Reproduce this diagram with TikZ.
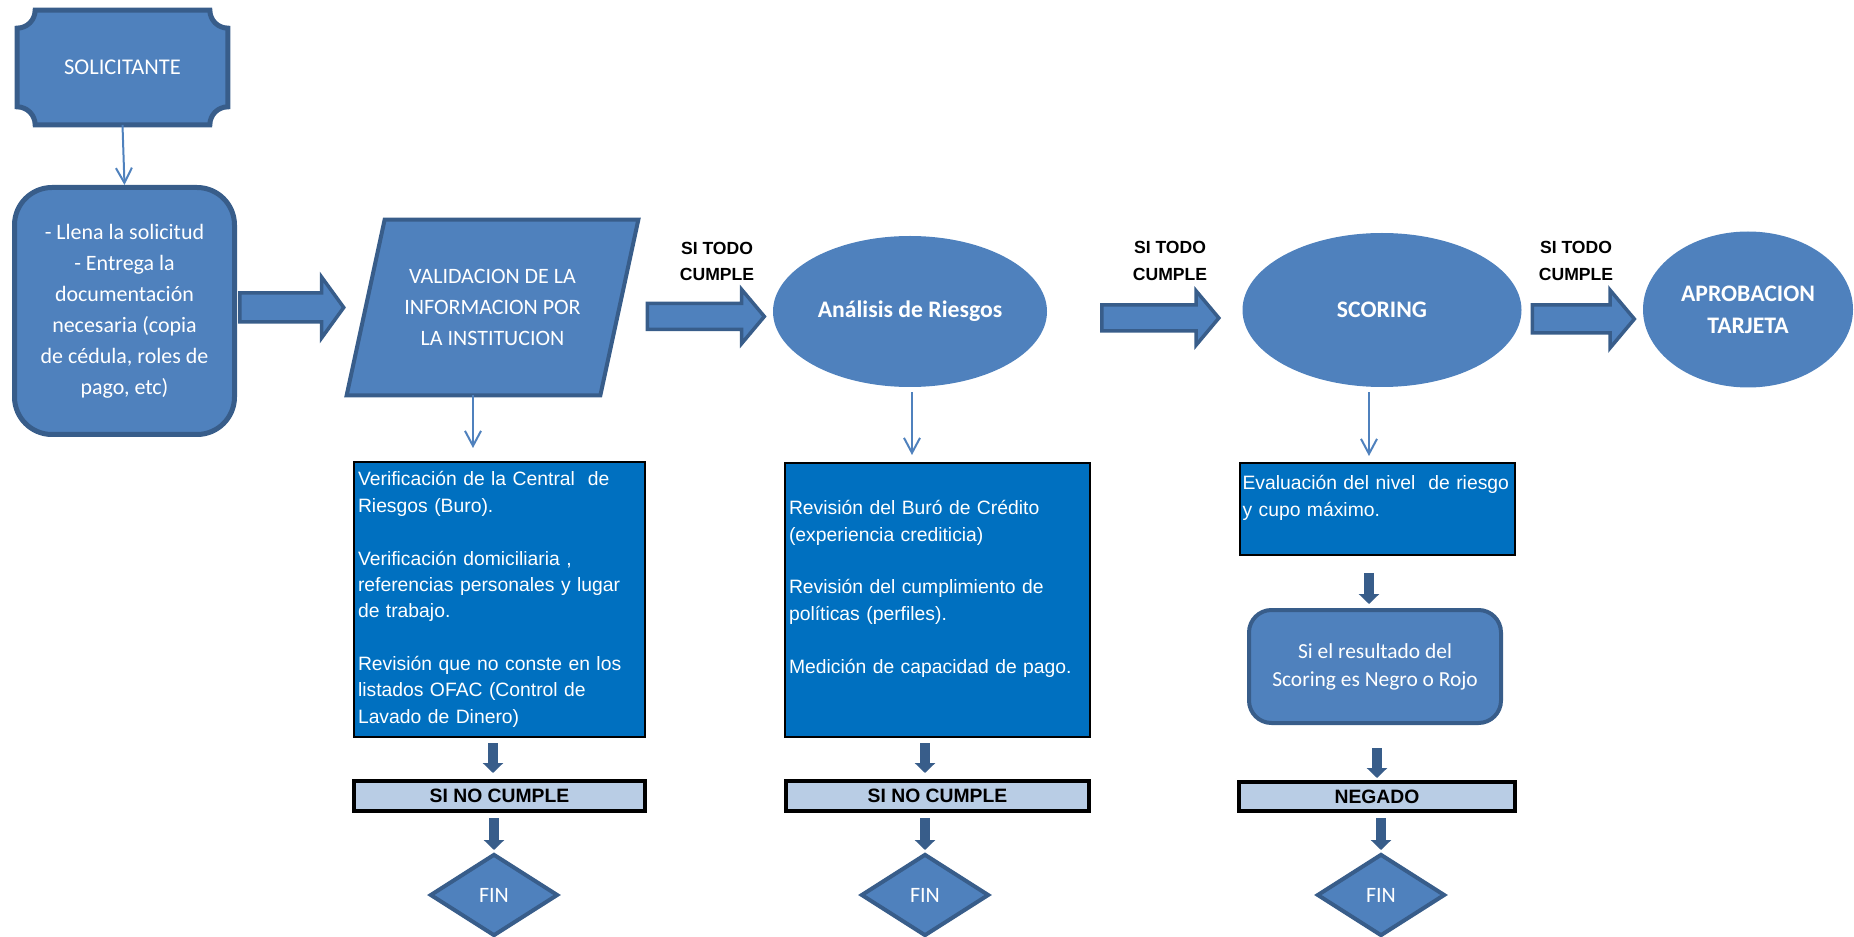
\documentclass[tikz,border=0pt]{standalone}
\usepackage{fontspec}
\setmainfont{Carlito}
\newfontfamily\arialfont{Liberation Sans}
\usetikzlibrary{shapes.geometric,shapes.arrows,arrows.meta,positioning,backgrounds}
\definecolor{fillblue}{HTML}{4F81BD}
\definecolor{edgeblue}{HTML}{385D8A}
\definecolor{boxblue}{HTML}{0070C0}
\definecolor{paleblue}{HTML}{B9CDE5}
\tikzset{
  plaque/.style={minimum width=4.2cm, minimum height=2.28cm, inner sep=0pt, text=white,
    font=\fontsize{12.8}{17.6}\selectfont},
  shapeline/.style={fill=fillblue, draw=edgeblue, line width=0.1cm},
  roundbox/.style={rectangle, rounded corners=0.75cm, fill=fillblue, draw=edgeblue,
    line width=0.1cm, text=white, align=center, inner sep=0pt,
    font=\fontsize{12.5}{17.6}\selectfont},
  slantbox/.style={minimum width=5.06cm, minimum height=3.5cm, text=white, align=center,
    inner sep=0pt, font=\fontsize{12.5}{17.6}\selectfont},
  oval/.style={ellipse, fill=fillblue, text=white, align=center, inner sep=0pt,
    font=\bfseries\fontsize{13.5}{18}\selectfont},
  bluebox/.style={rectangle, fill=boxblue, draw=black, line width=0.04cm, text=white,
    align=left, inner xsep=0.08cm, inner ysep=0pt, font=\arialfont\fontsize{11}{15}\selectfont},
  stopbox/.style={rectangle, fill=paleblue, draw=black, line width=0.08cm, inner sep=0pt,
    font=\arialfont\bfseries\fontsize{11}{13}\selectfont},
  finbox/.style={diamond, fill=fillblue, draw=edgeblue, line width=0.08cm, text=white,
    minimum width=2.56cm, minimum height=1.64cm, inner sep=0pt,
    font=\fontsize{12.5}{15}\selectfont},
  blockarrow/.style={single arrow, fill=fillblue, draw=edgeblue, line width=0.07cm,
    single arrow tip angle=100, single arrow head extend=0.28cm, minimum width=0pt,
    text height=0.225cm, text depth=0.225cm, inner sep=0pt},
  tagtext/.style={align=center, font=\arialfont\bfseries\fontsize{10}{15.3}\selectfont},
  thinlink/.style={draw=fillblue, line width=0.04cm, -{Straight Barb[length=0.3cm,width=0.32cm]}},
  dnarrow/.style={draw=edgeblue, line width=0.19cm, -{Triangle[length=0.2cm,width=0.4cm]}}
}
\begin{document}
\begin{tikzpicture}
\useasboundingbox (0,0) rectangle (37.08,-18.74);

% applicant
\node[plaque] (sol) at (2.45,-1.35) {SOLICITANTE};
\node[roundbox, minimum width=4.4cm, minimum height=4.94cm] (llena) at (2.49,-6.22)
  {- Llena la solicitud\\- Entrega la\\documentación\\necesaria (copia\\de cédula, roles de\\pago, etc)};

% main row
\node[slantbox] (val) at (9.85,-6.15) {VALIDACION DE LA\\INFORMACION POR\\LA INSTITUCION};
\begin{scope}[on background layer]
  \draw[shapeline] ([xshift=0.36cm]sol.north west) -- ([xshift=-0.36cm]sol.north east)
    arc[start angle=180, end angle=270, radius=0.36cm] -- ([yshift=0.36cm]sol.south east)
    arc[start angle=90, end angle=180, radius=0.36cm] -- ([xshift=0.36cm]sol.south west)
    arc[start angle=0, end angle=90, radius=0.36cm] -- ([yshift=-0.36cm]sol.north west)
    arc[start angle=270, end angle=360, radius=0.36cm] -- cycle;
  \draw[shapeline, line width=0.08cm] ([xshift=-0.38cm]val.south west) -- ([xshift=-0.38cm]val.south east)
    -- ([xshift=0.38cm]val.north east) -- ([xshift=0.38cm]val.north west) -- cycle;
\end{scope}
\node[oval, minimum width=5.48cm, minimum height=3.02cm] (ana) at (18.2,-6.23) {Análisis de Riesgos};
\node[oval, minimum width=5.58cm, minimum height=3.08cm] (scor) at (27.64,-6.2) {SCORING};
\node[oval, minimum width=4.2cm, minimum height=3.12cm] (apro) at (34.96,-6.19) {APROBACION\\TARJETA};

\node[blockarrow, minimum height=2.08cm, text height=0.255cm, text depth=0.255cm,
  single arrow head extend=0.32cm, single arrow tip angle=108,
  right=0.02cm of llena.east, yshift=0.07cm] (go1) {};
\node[blockarrow, minimum height=2.34cm, left=0.12cm of ana.west, yshift=-0.1cm] (go2) {};
\node[blockarrow, minimum height=2.34cm, left=0.42cm of scor.west, yshift=-0.16cm] (go3) {};
\node[blockarrow, minimum height=2.04cm, text height=0.245cm, text depth=0.245cm,
  single arrow head extend=0.3cm, left=0.12cm of apro.west, yshift=-0.19cm] (go4) {};

\node[tagtext] (tag1) at (14.34,-5.23) {SI TODO\\CUMPLE};
\node[tagtext] (tag2) at (23.4,-5.22) {SI TODO\\CUMPLE};
\node[tagtext] (tag3) at (31.52,-5.22) {SI TODO\\CUMPLE};

% detail boxes
\node[bluebox, minimum width=5.82cm, text width=5.66cm, minimum height=5.5cm] (box1) at (9.99,-11.99)
  {Verificación de la Central~ de\\Riesgos (Buro).\\[15pt]Verificación domiciliaria ,\\referencias personales y lugar\\de trabajo.\\[15pt]Revisión que no conste en los\\listados OFAC (Control de\\Lavado de Dinero)};
\node[bluebox, minimum width=6.1cm, text width=5.94cm, minimum height=5.48cm] (box2) at (18.75,-12.0)
  {Revisión del Buró de Crédito\\(experiencia crediticia)\\[15pt]Revisión del cumplimiento de\\políticas (perfiles).\\[15pt]Medición de capacidad de pago.\\ \mbox{}};
\node[bluebox, minimum width=5.5cm, text width=5.4cm, inner xsep=0.05cm, minimum height=1.84cm] (box3) at (27.55,-10.18)
  {Evaluación del nivel~ de riesgo\\y cupo máximo.\\ \mbox{}};
\node[roundbox, rounded corners=0.45cm, line width=0.08cm, minimum width=5.04cm, minimum height=2.26cm,
  font=\fontsize{12.2}{15.9}\selectfont] (res) at (27.5,-13.33)
  {Si el resultado del\\Scoring es Negro o Rojo};

\node[stopbox, minimum width=5.82cm, minimum height=0.6cm] (no1) at (9.99,-15.92) {SI NO CUMPLE};
\node[stopbox, minimum width=6.06cm, minimum height=0.6cm] (no2) at (18.75,-15.92) {SI NO CUMPLE};
\node[stopbox, minimum width=5.52cm, minimum height=0.58cm] (neg) at (27.54,-15.93) {NEGADO};

\node[finbox] (fin1) at (9.88,-17.9) {FIN};
\node[finbox] (fin2) at (18.5,-17.9) {FIN};
\node[finbox] (fin3) at (27.62,-17.9) {FIN};

% thin links
\draw[thinlink] (sol.south) -- (llena.north);
\draw[thinlink, shorten >=0.26cm] ([xshift=-0.39cm]val.south) -- ([xshift=-0.39cm]val.south |- box1.north);
\draw[thinlink, shorten <=0.1cm, shorten >=0.14cm] ([xshift=0.04cm]ana.south) -- ([xshift=0.04cm]ana.south |- box2.north);
\draw[thinlink, shorten <=0.1cm, shorten >=0.12cm] ([xshift=-0.26cm]scor.south) -- ([xshift=-0.26cm]scor.south |- box3.north);

% thick links
\draw[dnarrow, shorten <=0.1cm, shorten >=0.12cm] ([xshift=-0.13cm]box1.south) -- ([xshift=-0.13cm]box1.south |- no1.north);
\draw[dnarrow, shorten <=0.1cm, shorten >=0.04cm] (no1.south -| fin1.north) -- (fin1.north);
\draw[dnarrow, shorten <=0.1cm, shorten >=0.12cm] (box2.south -| fin2.north) -- (no2.north -| fin2.north);
\draw[dnarrow, shorten <=0.1cm, shorten >=0.04cm] (no2.south -| fin2.north) -- (fin2.north);
\draw[dnarrow, shorten <=0.34cm, shorten >=0.08cm] ([xshift=-0.17cm]box3.south) -- ([xshift=-0.17cm]box3.south |- res.north);
\draw[dnarrow, shorten <=0.46cm, shorten >=0.04cm] (res.south -| neg.north) -- (neg.north);
\draw[dnarrow, shorten <=0.1cm, shorten >=0.04cm] (neg.south -| fin3.north) -- (fin3.north);
\end{tikzpicture}
\end{document}
